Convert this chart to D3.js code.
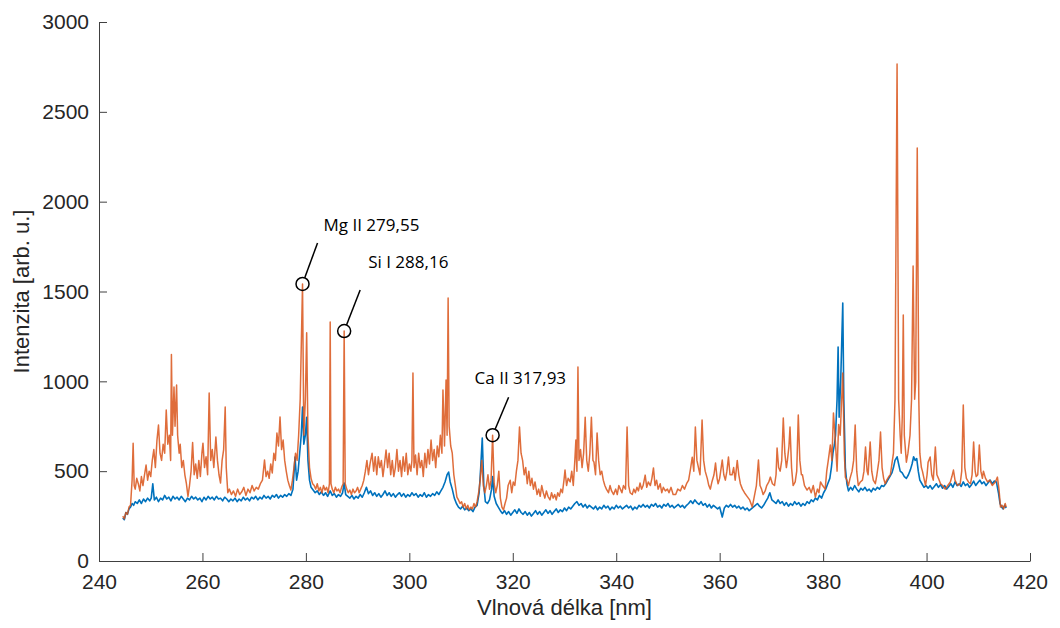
<!DOCTYPE html>
<html>
<head>
<meta charset="utf-8">
<style>

  body {
    margin: 0;
    background-color: white;
  }

  svg {
    display: block;
  }

  .axis text {
    font-family: "Liberation Sans", Arial, sans-serif;
    font-size: 21px;
    fill: #262626;
  }

  .axis path, .axis line {
    stroke: #404040;
  }

  .axis-title {
    font-family: "Liberation Sans", Arial, sans-serif;
    font-size: 22px;
    fill: #262626;
  }

  .note {
    font-family: "Open Sans", sans-serif;
    font-size: 17px;
    fill: black;
  }

</style>
</head>
<body>
<script src="https://d3js.org/d3.v7.min.js"></script>
<script>

// tick labels
var xTicks = [240, 260, 280, 300, 320, 340, 360, 380, 400, 420];
var yTicks = [0, 500, 1000, 1500, 2000, 2500, 3000];

// orange spectrum: [wavelength nm, intensity]
var orange = [
  [244.6,250],[244.9,235],[245.2,270],[245.5,260],[245.8,300],[246.1,310],[246.4,450],[246.6,655],[246.8,420],
  [247.0,400],[247.3,460],[247.6,430],[247.9,390],[248.2,470],[248.5,420],[248.8,480],[249.1,534],[249.4,450],
  [249.7,500],[250.0,470],[250.3,560],[250.6,620],[250.9,520],[251.2,670],[251.5,757],[251.8,600],[252.1,560],
  [252.4,650],[252.7,600],[253.0,840],[253.3,650],[253.6,700],[253.85,560],[254.0,1150],[254.2,700],[254.5,968],
  [254.7,750],[255.0,980],[255.2,700],[255.5,600],[255.7,650],[256.0,520],[256.3,560],[256.6,480],[256.9,430],
  [257.2,360],[257.5,420],[257.8,500],[258.1,660],[258.4,480],[258.7,540],[259.0,460],[259.3,560],[259.6,470],
  [259.9,600],[260.1,656],[260.4,520],[260.7,580],[261.0,480],[261.3,935],[261.6,560],[261.9,620],[262.2,520],
  [262.6,690],[262.9,560],[263.2,480],[263.5,434],[263.8,560],[264.1,620],[264.4,857],[264.6,520],[264.9,380],
  [265.2,400],[265.6,370],[266.0,390],[266.4,360],[266.8,400],[267.2,370],[267.6,385],[268.0,410],[268.4,365],
  [268.8,400],[269.2,380],[269.6,420],[270.0,390],[270.4,410],[270.8,400],[271.2,430],[271.6,450],[272.0,562],
  [272.3,470],[272.6,500],[272.9,460],[273.2,540],[273.5,490],[273.8,600],[274.1,560],[274.4,712],[274.7,640],
  [275.0,802],[275.3,620],[275.6,673],[275.9,560],[276.2,500],[276.5,450],[276.8,420],[277.1,395],[277.4,450],
  [277.7,520],[278.0,600],[278.3,560],[278.6,700],[278.9,900],[279.35,1542],[279.6,700],[279.9,900],[280.15,1270],
  [280.4,700],[280.7,520],[281.0,460],[281.3,430],[281.6,420],[281.9,400],[282.2,430],[282.5,390],[282.8,410],
  [283.1,380],[283.4,420],[283.7,395],[284.0,410],[284.3,380],[284.55,430],[284.7,1330],[284.85,430],[285.1,400],
  [285.4,380],[285.7,410],[286.0,390],[286.3,400],[286.6,380],[286.9,410],[287.2,430],[287.4,1280],[287.6,430],
  [287.9,400],[288.2,380],[288.5,395],[288.8,370],[289.1,400],[289.4,380],[289.7,390],[290.0,410],[290.3,380],
  [290.6,400],[290.9,420],[291.2,450],[291.5,500],[291.8,560],[292.1,480],[292.4,540],[292.8,600],[293.1,500],
  [293.4,580],[293.7,480],[294.0,580],[294.3,520],[294.6,560],[294.9,470],[295.2,540],[295.5,618],[295.8,520],
  [296.1,600],[296.4,480],[296.7,560],[297.0,470],[297.3,520],[297.6,620],[297.9,500],[298.2,560],[298.5,470],
  [298.8,580],[299.1,500],[299.4,600],[299.7,480],[300.0,540],[300.3,500],[300.5,560],[300.7,1046],[300.9,520],
  [301.2,590],[301.5,480],[301.8,600],[302.1,520],[302.4,560],[302.7,470],[303.0,600],[303.3,520],[303.6,620],
  [303.9,540],[304.2,673],[304.5,560],[304.8,620],[305.1,520],[305.4,640],[305.7,580],[306.0,700],[306.3,600],
  [306.5,952],[306.8,640],[307.1,1007],[307.3,700],[307.5,1464],[307.7,750],[308.0,640],[308.3,600],[308.6,480],
  [308.9,420],[309.2,356],[309.5,340],[309.8,320],[310.1,330],[310.4,300],[310.7,320],[311.0,290],[311.3,310],
  [311.6,285],[311.9,300],[312.2,290],[312.5,320],[312.8,300],[313.1,330],[313.4,380],[313.7,450],[314.0,560],
  [314.3,420],[314.6,380],[314.9,420],[315.2,480],[315.5,400],[315.8,450],[316.1,700],[316.4,430],[316.7,380],
  [317.0,420],[317.3,500],[317.6,350],[317.9,300],[318.2,284],[318.5,320],[318.8,350],[319.1,420],[319.5,450],
  [319.8,380],[320.1,440],[320.4,420],[320.7,500],[321.0,560],[321.3,746],[321.6,600],[321.9,560],[322.2,480],
  [322.5,520],[322.8,430],[323.1,500],[323.4,420],[323.7,460],[324.0,400],[324.3,440],[324.7,370],[325.0,400],
  [325.3,360],[325.6,420],[325.9,380],[326.2,350],[326.5,390],[326.8,360],[327.2,340],[327.5,380],[327.8,350],
  [328.1,370],[328.4,340],[328.7,380],[329.0,360],[329.3,400],[329.6,380],[329.9,450],[330.1,506],[330.4,420],
  [330.7,460],[331.1,440],[331.4,500],[331.7,420],[332.0,560],[332.2,673],[332.4,500],[332.6,1080],[332.8,560],
  [333.1,620],[333.4,520],[333.7,600],[334.0,800],[334.3,560],[334.6,500],[334.9,600],[335.2,800],[335.5,560],
  [335.7,550],[336.0,480],[336.3,712],[336.6,560],[336.9,480],[337.2,500],[337.5,450],[337.8,420],[338.1,400],
  [338.5,380],[338.8,420],[339.1,390],[339.5,370],[339.9,400],[340.2,370],[340.5,420],[340.8,400],[341.1,380],
  [341.4,420],[341.8,400],[342.1,746],[342.4,420],[342.7,380],[343.1,370],[343.4,400],[343.7,380],[344.0,410],
  [344.3,390],[344.6,434],[344.9,400],[345.2,420],[345.6,478],[345.9,410],[346.2,440],[346.6,420],[346.9,460],
  [347.2,518],[347.5,420],[347.8,450],[348.1,400],[348.5,430],[348.8,380],[349.1,410],[349.5,390],[349.9,400],
  [350.2,380],[350.6,410],[351.0,370],[351.5,370],[351.9,400],[352.4,390],[352.8,420],[353.2,400],[353.6,430],
  [354.0,450],[354.4,520],[354.7,578],[355.0,500],[355.3,746],[355.6,560],[355.9,520],[356.2,480],[356.6,785],
  [356.9,560],[357.2,500],[357.6,460],[357.9,420],[358.2,400],[358.5,440],[358.9,480],[359.2,545],[359.5,460],
  [359.7,430],[360.0,460],[360.5,562],[360.8,480],[361.1,450],[361.4,500],[361.7,579],[362.0,480],[362.4,480],
  [362.7,520],[363.0,450],[363.4,560],[363.7,480],[364.0,430],[364.4,400],[364.8,380],[365.3,360],[365.8,340],
  [366.3,300],[366.7,360],[367.1,420],[367.5,562],[367.8,420],[368.1,400],[368.4,370],[368.8,390],[369.1,420],
  [369.5,440],[369.8,467],[370.2,430],[370.6,420],[370.9,480],[371.1,629],[371.4,520],[371.7,500],[372.0,560],
  [372.3,796],[372.6,600],[372.9,520],[373.1,560],[373.4,640],[373.6,746],[373.9,520],[374.2,420],[374.6,440],
  [374.9,500],[375.2,812],[375.5,560],[375.8,480],[376.0,480],[376.4,420],[376.9,395],[377.3,410],[377.7,380],
  [378.1,420],[378.5,356],[378.9,400],[379.2,380],[379.5,440],[379.9,420],[380.4,400],[380.7,500],[381.0,560],
  [381.4,646],[381.7,560],[382.0,824],[382.3,700],[382.5,600],[382.7,500],[383.0,760],[383.3,700],[383.8,1046],
  [384.1,600],[384.3,467],[384.6,450],[384.9,420],[385.2,460],[385.6,500],[385.9,560],[386.2,757],[386.5,500],
  [386.8,420],[387.2,440],[387.6,450],[387.9,500],[388.2,634],[388.5,500],[388.7,480],[389.1,662],[389.4,500],
  [389.7,450],[390.1,430],[390.4,480],[390.8,560],[391.1,718],[391.4,520],[391.7,460],[392.0,430],[392.3,450],
  [392.7,470],[393.0,480],[393.3,540],[393.6,600],[393.9,900],[394.3,2766],[394.6,900],[394.9,700],[395.1,600],
  [395.3,800],[395.5,1369],[395.7,700],[396.1,550],[396.4,600],[396.8,700],[397.1,900],[397.4,1642],[397.7,900],
  [397.9,1000],[398.2,2299],[398.5,900],[398.7,600],[399.0,520],[399.2,500],[399.5,460],[399.8,420],[400.1,480],
  [400.3,550],[400.7,579],[401.0,480],[401.3,450],[401.7,634],[402.0,480],[402.3,460],[402.7,430],[403.1,420],
  [403.6,400],[404.1,420],[404.6,440],[404.9,470],[405.2,506],[405.5,450],[406.0,420],[406.5,430],[406.8,500],
  [407.1,868],[407.4,520],[407.7,460],[408.1,440],[408.5,430],[408.8,480],[409.1,662],[409.4,500],[409.6,470],
  [409.9,480],[410.2,646],[410.5,500],[410.8,460],[411.0,500],[411.4,460],[411.8,440],[412.2,450],[412.7,420],
  [413.0,430],[413.3,440],[413.7,467],[414.0,400],[414.3,300],[414.6,310],[414.9,290],[415.2,320],[415.4,300]
];

// blue spectrum: [wavelength nm, intensity]
var blue = [
  [244.6,240],[244.9,230],[245.2,270],[245.5,260],[245.8,290],[246.1,300],[246.4,320],[246.7,310],[247.0,330],
  [247.4,320],[247.8,340],[248.2,320],[248.6,345],[249.0,330],[249.4,350],[249.8,335],[250.1,350],[250.4,430],
  [250.7,340],[251.1,355],[251.5,330],[251.9,350],[252.3,340],[252.7,365],[253.1,345],[253.5,355],[253.9,335],
  [254.3,360],[254.7,345],[255.1,355],[255.5,340],[255.9,360],[256.3,345],[256.7,330],[257.1,350],[257.5,340],
  [257.9,360],[258.3,345],[258.7,355],[259.1,340],[259.5,350],[259.9,330],[260.3,355],[260.7,340],[261.1,360],
  [261.5,345],[261.9,355],[262.3,340],[262.7,360],[263.1,345],[263.5,350],[263.9,335],[264.3,355],[264.7,345],
  [265.1,330],[265.5,345],[265.9,335],[266.3,350],[266.7,330],[267.1,345],[267.5,335],[267.9,355],[268.3,340],
  [268.7,350],[269.1,335],[269.5,355],[269.9,345],[270.3,360],[270.7,340],[271.1,355],[271.5,345],[271.9,365],
  [272.3,350],[272.7,360],[273.1,345],[273.5,365],[273.9,355],[274.3,370],[274.7,350],[275.1,365],[275.5,355],
  [275.9,370],[276.3,360],[276.7,375],[277.1,365],[277.5,400],[277.9,578],[278.2,450],[278.5,500],[278.8,600],
  [279.1,700],[279.35,857],[279.6,650],[279.9,700],[280.15,800],[280.4,560],[280.7,450],[281.0,410],[281.4,395],
  [281.8,380],[282.2,390],[282.6,370],[283.0,385],[283.4,365],[283.8,380],[284.2,360],[284.7,390],[285.1,365],
  [285.5,375],[285.9,355],[286.3,370],[286.7,360],[287.1,380],[287.4,434],[287.7,370],[288.1,360],[288.5,350],
  [288.9,365],[289.3,345],[289.7,360],[290.1,350],[290.5,370],[290.9,355],[291.3,380],[291.7,410],[292.1,375],
  [292.5,390],[292.9,365],[293.3,380],[293.7,360],[294.1,375],[294.5,355],[294.9,370],[295.3,390],[295.7,365],
  [296.1,380],[296.5,360],[296.9,375],[297.3,355],[297.7,370],[298.1,380],[298.5,360],[298.9,375],[299.3,355],
  [299.7,370],[300.1,360],[300.5,380],[300.9,365],[301.3,375],[301.7,355],[302.1,370],[302.5,360],[302.9,380],
  [303.3,355],[303.7,370],[304.1,360],[304.5,375],[304.9,365],[305.3,385],[305.7,370],[306.1,390],[306.5,410],
  [306.9,440],[307.3,480],[307.6,495],[307.9,440],[308.3,400],[308.7,350],[309.1,320],[309.5,300],[309.9,290],
  [310.3,305],[310.7,285],[311.1,295],[311.5,280],[311.9,290],[312.3,275],[312.7,300],[313.1,310],[313.5,380],
  [313.8,520],[314.1,684],[314.4,420],[314.7,330],[315.1,320],[315.5,340],[315.9,400],[316.1,470],[316.4,360],
  [316.8,320],[317.2,300],[317.6,280],[318.0,265],[318.4,280],[318.8,260],[319.2,275],[319.6,255],[320.0,270],
  [320.4,285],[320.8,265],[321.2,290],[321.6,270],[322.0,260],[322.4,275],[322.8,255],[323.2,270],[323.6,250],
  [324.0,265],[324.4,280],[324.8,260],[325.2,275],[325.6,255],[326.0,270],[326.4,285],[326.8,265],[327.2,280],
  [327.6,260],[328.0,275],[328.4,290],[328.8,270],[329.2,285],[329.6,275],[330.0,295],[330.4,280],[330.8,300],
  [331.2,290],[331.6,305],[332.0,320],[332.4,330],[332.8,310],[333.2,320],[333.6,300],[334.0,315],[334.4,295],
  [334.8,310],[335.2,300],[335.6,290],[336.0,305],[336.4,285],[336.8,300],[337.2,290],[337.6,310],[338.0,295],
  [338.4,305],[338.8,285],[339.2,300],[339.6,290],[340.0,310],[340.4,295],[340.8,305],[341.2,290],[341.6,300],
  [342.0,310],[342.4,295],[342.8,305],[343.2,285],[343.6,300],[344.0,290],[344.4,310],[344.8,300],[345.2,315],
  [345.6,300],[346.0,310],[346.4,295],[346.8,315],[347.2,305],[347.6,320],[348.0,300],[348.4,310],[348.8,295],
  [349.2,315],[349.6,305],[350.0,320],[350.4,300],[350.8,310],[351.2,295],[351.6,305],[352.0,315],[352.4,300],
  [352.8,310],[353.2,295],[353.6,310],[354.0,320],[354.4,335],[354.8,320],[355.2,340],[355.6,325],[356.0,315],
  [356.4,330],[356.8,310],[357.2,320],[357.6,300],[358.0,315],[358.4,295],[358.8,310],[359.2,300],[359.6,290],
  [360.0,300],[360.5,245],[360.9,295],[361.3,310],[361.7,300],[362.1,315],[362.5,300],[362.9,310],[363.3,295],
  [363.7,305],[364.1,290],[364.5,300],[364.9,285],[365.3,295],[365.7,280],[366.1,290],[366.5,300],[366.9,310],
  [367.3,320],[367.7,305],[368.1,295],[368.5,310],[368.9,330],[369.3,350],[369.7,380],[370.1,340],[370.5,330],
  [370.9,320],[371.3,340],[371.7,320],[372.1,330],[372.5,310],[372.9,325],[373.3,305],[373.7,320],[374.1,310],
  [374.5,330],[374.9,315],[375.3,325],[375.7,305],[376.1,320],[376.5,310],[376.9,330],[377.3,320],[377.7,340],
  [378.1,330],[378.5,350],[378.9,340],[379.3,365],[379.7,350],[380.1,380],[380.5,400],[380.9,430],[381.3,460],
  [381.6,520],[381.9,600],[382.2,650],[382.4,700],[382.7,900],[382.9,1191],[383.1,800],[383.4,1000],[383.8,1436],
  [384.0,900],[384.3,520],[384.6,430],[384.9,390],[385.3,410],[385.7,395],[386.1,420],[386.5,400],[386.9,385],
  [387.3,405],[387.7,395],[388.1,410],[388.5,390],[388.9,400],[389.3,385],[389.7,405],[390.1,395],[390.5,410],
  [390.9,400],[391.3,420],[391.7,415],[392.1,430],[392.5,450],[392.9,470],[393.3,490],[393.6,520],[393.9,560],
  [394.3,580],[394.6,540],[394.9,500],[395.3,490],[395.7,470],[396.1,460],[396.5,480],[396.9,510],[397.2,540],
  [397.5,580],[397.8,560],[398.1,570],[398.4,500],[398.7,450],[399.1,430],[399.5,410],[399.9,420],[400.3,405],
  [400.7,420],[401.1,400],[401.5,415],[401.9,430],[402.3,410],[402.7,425],[403.1,405],[403.5,420],[403.9,400],
  [404.3,415],[404.7,430],[405.1,410],[405.5,440],[405.9,420],[406.3,430],[406.7,415],[407.1,440],[407.5,420],
  [407.9,430],[408.3,410],[408.7,425],[409.1,445],[409.5,420],[409.9,435],[410.3,450],[410.7,430],[411.1,440],
  [411.5,420],[411.9,435],[412.3,450],[412.7,430],[413.1,445],[413.5,440],[413.9,380],[414.2,320],[414.5,300],
  [414.8,290],[415.1,310],[415.4,295]
];

// annotated lines
var noteLabels = ["Mg II 279,55", "Si I 288,16", "Ca II 317,93"];
var noteNm = [279.35, 287.4, 316.1];
var noteValues = [1542, 1280, 700];

var margin = {"top": 22, "right": 30, "bottom": 67, "left": 99};
var width = 1060 - margin.left - margin.right,
    height = 628 - margin.top - margin.bottom;

var svg = d3.select("body").append("svg")
    .attr("width", width + margin.left + margin.right)
    .attr("height", height + margin.top + margin.bottom);

var g = svg.append("g")
    .attr("transform", "translate(" + margin.left + "," + margin.top + ")");

// scales
var x = d3.scaleLinear().domain([240, 420]).range([0, width]);
var y = d3.scaleLinear().domain([0, 3000]).range([height, 0]);

// axes, ticks point inward
g.append("g")
  .attr("class", "axis")
  .attr("transform", "translate(0," + height + ")")
  .call(d3.axisBottom(x).tickValues(xTicks).tickSizeInner(-8).tickSizeOuter(0).tickPadding(13));

g.append("g")
  .attr("class", "axis")
  .call(d3.axisLeft(y).tickValues(yTicks).tickFormat(d3.format("d")).tickSizeInner(-8).tickSizeOuter(0).tickPadding(10));

// spectra
var line = d3.line()
  .x(function(d) { return x(d[0]); })
  .y(function(d) { return y(d[1]); });

g.append("path")
  .datum(blue)
  .attr("fill", "none")
  .attr("stroke", "#0072BD")
  .attr("stroke-width", 1.6)
  .attr("stroke-linejoin", "round")
  .attr("d", line);

g.append("path")
  .datum(orange)
  .attr("fill", "none")
  .attr("stroke", "#D95319")
  .attr("stroke-opacity", 0.85)
  .attr("stroke-width", 1.5)
  .attr("stroke-linejoin", "round")
  .attr("d", line);

// axis titles
svg.append("text")
  .attr("class", "axis-title")
  .attr("text-anchor", "middle")
  .attr("x", margin.left + width / 2)
  .attr("y", 615)
  .text("Vlnová délka [nm]");

svg.append("text")
  .attr("class", "axis-title")
  .attr("text-anchor", "middle")
  .attr("transform", "translate(29," + (margin.top + height / 2) + ") rotate(-90)")
  .text("Intenzita [arb. u.]");

// annotation layout: leader end and text start, relative to the circle
var leaderEnd = [[15, -41], [16, -41], [16, -38]];
var textStart = [[21, -53], [24, -63], [-18, -51]];
var r = 6.5;

noteLabels.forEach(function(label, i) {
  var cx = x(noteNm[i]);
  var cy = y(noteValues[i]);
  var dx = leaderEnd[i][0], dy = leaderEnd[i][1];
  var len = Math.sqrt(dx * dx + dy * dy);

  g.append("line")
    .attr("x1", cx + dx / len * r)
    .attr("y1", cy + dy / len * r)
    .attr("x2", cx + dx)
    .attr("y2", cy + dy)
    .attr("stroke", "black")
    .attr("stroke-width", 1.5);

  g.append("circle")
    .attr("cx", cx)
    .attr("cy", cy)
    .attr("r", r)
    .attr("fill", "none")
    .attr("stroke", "black")
    .attr("stroke-width", 1.5);

  g.append("text")
    .attr("class", "note")
    .attr("x", cx + textStart[i][0])
    .attr("y", cy + textStart[i][1])
    .text(label);
});

</script>
</body>
</html>
